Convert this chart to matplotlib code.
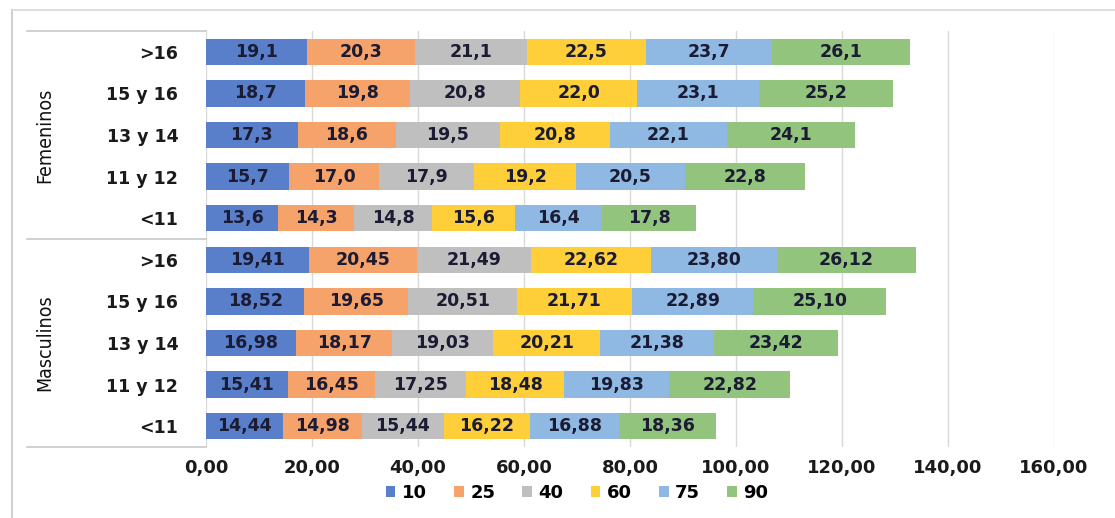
import matplotlib
matplotlib.use("Agg")
import matplotlib.pyplot as plt
from matplotlib.patches import Patch
from matplotlib.lines import Line2D
import numpy as np

# ---- data ----
percentiles = ["10", "25", "40", "60", "75", "90"]
categories = [">16", "15 y 16", "13 y 14", "11 y 12", "<11"]
groups = ["Femeninos", "Masculinos"]

fem_gt16 = [19.1, 20.3, 21.1, 22.5, 23.7, 26.1]
fem_15_16 = [18.7, 19.8, 20.8, 22.0, 23.1, 25.2]
fem_13_14 = [17.3, 18.6, 19.5, 20.8, 22.1, 24.1]
fem_11_12 = [15.7, 17.0, 17.9, 19.2, 20.5, 22.8]
fem_lt11 = [13.6, 14.3, 14.8, 15.6, 16.4, 17.8]

mas_gt16 = [19.41, 20.45, 21.49, 22.62, 23.80, 26.12]
mas_15_16 = [18.52, 19.65, 20.51, 21.71, 22.89, 25.10]
mas_13_14 = [16.98, 18.17, 19.03, 20.21, 21.38, 23.42]
mas_11_12 = [15.41, 16.45, 17.25, 18.48, 19.83, 22.82]
mas_lt11 = [14.44, 14.98, 15.44, 16.22, 16.88, 18.36]

x_ticks = [0, 20, 40, 60, 80, 100, 120, 140, 160]

colors = ["#5a7fca", "#f5a26b", "#bfbfbf", "#ffcf3a", "#8fb8e3", "#93c47d"]

rows = [fem_gt16, fem_15_16, fem_13_14, fem_11_12, fem_lt11,
        mas_gt16, mas_15_16, mas_13_14, mas_11_12, mas_lt11]
decimals = [1] * 5 + [2] * 5
row_labels = categories + categories

W, H = 1115, 518
fig = plt.figure(figsize=(W / 100, H / 100), dpi=100)
fig.patch.set_facecolor("white")
ax = fig.add_axes([206 / W, 1 - 447 / H, (1054 - 206) / W, (447 - 31) / H])

FONT = "DejaVu Sans"
txt_col = "#1b1b33"
vals = np.array(rows)
ypos = np.arange(len(rows))
left = np.zeros(len(rows))
for j in range(len(percentiles)):
    ax.barh(ypos, vals[:, j], left=left, height=0.63, color=colors[j],
            label=percentiles[j], zorder=2)
    for i in range(len(rows)):
        s = f"{vals[i, j]:.{decimals[i]}f}".replace(".", ",")
        ax.text(left[i] + vals[i, j] / 2, ypos[i], s, ha="center", va="center",
                fontsize=12.5, fontweight="bold", color=txt_col, family=FONT, zorder=3)
    left += vals[:, j]

ax.set_xlim(0, 160)
ax.set_ylim(len(rows) - 0.5, -0.5)
ax.set_xticks(x_ticks)
ax.set_xticklabels([f"{v:.2f}".replace(".", ",") for v in x_ticks],
                   fontsize=13, fontweight="bold", family=FONT, color="#1a1a1a")
ax.set_yticks(ypos)
ax.set_yticklabels(row_labels, fontsize=12.5, fontweight="bold", family=FONT, color="#1a1a1a")
ax.tick_params(axis="both", length=0)
ax.tick_params(axis="y", pad=20)
ax.tick_params(axis="x", pad=9)
ax.grid(axis="x", color="#d9d9d9", lw=1, zorder=0)
for sp in ax.spines.values():
    sp.set_visible(False)

# group separators in the label area
tr = ax.get_yaxis_transform()
x0 = (27 - 206) / (1054 - 206)
for yb in [-0.5, 4.5, 9.5]:
    ax.add_line(Line2D([x0, 0], [yb, yb], transform=tr, color="#c8c8c8", lw=1.2, clip_on=False))

xg = (45 - 206) / (1054 - 206)
for g, yc in zip(groups, [2, 7]):
    ax.text(xg, yc, g, transform=tr, rotation=90, ha="center", va="center",
            fontsize=14, color="#111111", family="DejaVu Sans", fontstretch="condensed")

# figure frame lines
fig.add_artist(Line2D([12 / W, 12 / W], [0, 1 - 10 / H], transform=fig.transFigure, color="#d0d0d0", lw=1.5))
fig.add_artist(Line2D([12 / W, 1], [1 - 10 / H, 1 - 10 / H], transform=fig.transFigure, color="#d8d8d8", lw=1.2))

handles = [Patch(facecolor=c, label=p) for c, p in zip(colors, percentiles)]
fig.legend(handles=handles, loc="center", bbox_to_anchor=(577 / W, 1 - 493 / H), ncol=6,
           frameon=False, handlelength=0.55, handleheight=0.55, handletextpad=0.35,
           columnspacing=1.5, prop={"family": FONT, "weight": "bold", "size": 13})

fig.savefig("out.png", dpi=100)
